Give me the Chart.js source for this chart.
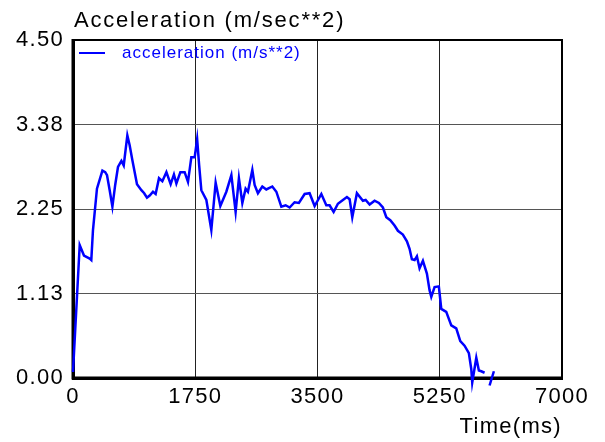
<!DOCTYPE html>
<html>
<head>
<meta charset="utf-8">
<script src="https://cdn.jsdelivr.net/npm/chart.js@4/dist/chart.umd.min.js"></script>
<style>
  html, body { margin: 0; padding: 0; background: #fff; }
  #wrap { width: 605px; height: 442px; position: relative; }
</style>
</head>
<body>
<div id="wrap"><canvas id="c" width="605" height="442"></canvas></div>
<script>
// ---- data ----
const chartTitle = 'Acceleration (m/sec**2)';
const seriesLabel = 'acceleration (m/s**2)';
const xAxisTitle = 'Time(ms)';

const timeMs = [
  0, 96, 157, 239, 262, 286, 343, 421, 461, 487, 525, 564, 604, 644, 693, 726, 778, 811, 850, 916,
  979, 1019, 1059, 1098, 1145, 1183, 1231, 1279, 1337, 1398, 1445, 1480, 1537, 1598, 1646, 1694, 1742, 1777, 1806, 1837,
  1909, 1980, 2042, 2109, 2195, 2267, 2328, 2375, 2424, 2471, 2504, 2567, 2600, 2647, 2710, 2767, 2853, 2911, 2982, 3044,
  3101, 3172, 3234, 3316, 3387, 3459, 3555, 3626, 3673, 3731, 3792, 3864, 3921, 3960, 3998, 4064, 4150, 4189, 4246, 4317,
  4379, 4436, 4485, 4542, 4603, 4651, 4722, 4780, 4818, 4851, 4890, 4923, 4961, 5009, 5066, 5104, 5129, 5176, 5237, 5272,
  5343, 5415, 5486, 5544, 5605, 5667, 5701, 5715, 5773, 5810, 5844, 5892, 5930, 5963, 6025
];
const accel = [
  0.08, 1.77, 1.63, 1.59, 1.57, 1.97, 2.52, 2.76, 2.74, 2.70, 2.50, 2.28, 2.57, 2.81, 2.89, 2.83, 3.23, 3.10, 2.90, 2.58,
  2.50, 2.46, 2.40, 2.43, 2.48, 2.45, 2.66, 2.62, 2.74, 2.58, 2.71, 2.59, 2.74, 2.74, 2.61, 2.94, 2.94, 3.18, 2.83, 2.50,
  2.37, 1.97, 2.60, 2.29, 2.48, 2.70, 2.21, 2.66, 2.33, 2.52, 2.48, 2.77, 2.57, 2.46, 2.55, 2.51, 2.55, 2.48, 2.28, 2.30,
  2.27, 2.34, 2.33, 2.45, 2.46, 2.29, 2.45, 2.30, 2.30, 2.21, 2.32, 2.37, 2.41, 2.38, 2.14, 2.46, 2.36, 2.37, 2.31, 2.36,
  2.33, 2.27, 2.14, 2.10, 2.03, 1.96, 1.91, 1.82, 1.72, 1.58, 1.57, 1.62, 1.46, 1.56, 1.39, 1.17, 1.08, 1.21, 1.22, 0.92,
  0.88, 0.70, 0.66, 0.49, 0.43, 0.33, 0.12, -0.06, 0.27, 0.10, 0.09, 0.07, null, -0.10, 0.09
];

const xTickValues = [0, 1750, 3500, 5250, 7000];
const xTickLabels = ['0', '1750', '3500', '5250', '7000'];
const yTickValues = [0, 1.125, 2.25, 3.375, 4.5];
const yTickLabels = ['0.00', '1.13', '2.25', '3.38', '4.50'];

// ---- styling ----
const FONT = 'Liberation Sans, Arial, sans-serif';
const LS = '1.3px';
const BLUE = '#0000ff';

const letterSpacingPlugin = {
  id: 'ls',
  beforeLayout(chart) { chart.ctx.letterSpacing = LS; },
  beforeDraw(chart) { chart.ctx.letterSpacing = LS; }
};

const framePlugin = {
  id: 'frame',
  beforeDatasetsDraw(chart) {
    const { ctx, chartArea: a } = chart;
    ctx.save();
    ctx.strokeStyle = '#000';
    ctx.lineWidth = 2;
    ctx.beginPath();
    ctx.moveTo(a.left, a.top);
    ctx.lineTo(a.right, a.top);
    ctx.lineTo(a.right, a.bottom);
    ctx.stroke();
    ctx.lineWidth = 3;
    ctx.beginPath();
    ctx.moveTo(a.left, a.top - 1);
    ctx.lineTo(a.left, a.bottom);
    ctx.lineTo(a.right + 1, a.bottom);
    ctx.stroke();
    ctx.restore();
  }
};

const textPlugin = {
  id: 'texts',
  afterDraw(chart) {
    const { ctx, chartArea: a } = chart;
    const ds = chart.data.datasets[0];
    ctx.save();
    // title
    ctx.letterSpacing = '1.8px';
    ctx.fillStyle = '#000';
    ctx.font = '22px ' + FONT;
    ctx.textAlign = 'left';
    ctx.textBaseline = 'middle';
    ctx.fillText(chartTitle, a.left + 1, 20.5);
    // legend
    const ly = a.top + 13;
    ctx.strokeStyle = ds.borderColor;
    ctx.lineWidth = 2;
    ctx.beginPath();
    ctx.moveTo(a.left + 6, ly);
    ctx.lineTo(a.left + 32, ly);
    ctx.stroke();
    ctx.fillStyle = ds.borderColor;
    ctx.letterSpacing = '1px';
    ctx.font = '17px ' + FONT;
    ctx.fillText(ds.label, a.left + 49, ly);
    ctx.restore();
  }
};

const points = timeMs.map((t, i) => ({ x: t, y: accel[i] }));

new Chart(document.getElementById('c'), {
  type: 'line',
  data: {
    datasets: [{
      label: seriesLabel,
      data: points,
      borderColor: BLUE,
      borderWidth: 2.5,
      pointRadius: 0,
      tension: 0,
      fill: false,
      spanGaps: false,
      clip: false
    }]
  },
  options: {
    responsive: false,
    animation: false,
    events: [],
    layout: { padding: { left: 0, top: 40, right: 43, bottom: 0 } },
    plugins: {
      legend: { display: false },
      title: { display: false },
      tooltip: { enabled: false }
    },
    scales: {
      x: {
        type: 'linear',
        min: 0,
        max: 7000,
        afterBuildTicks(scale) { scale.ticks = xTickValues.map(v => ({ value: v })); },
        afterFit(scale) { scale.height = 64; },
        ticks: {
          autoSkip: false,
          maxRotation: 0,
          padding: 6,
          color: '#000',
          font: { family: FONT, size: 22 },
          callback: (v, i) => xTickLabels[i]
        },
        grid: { color: '#222', lineWidth: 1, drawTicks: false },
        border: { display: true, color: '#000', width: 3 },
        title: {
          display: true,
          text: xAxisTitle,
          align: 'end',
          color: '#000',
          font: { family: FONT, size: 22 },
          padding: { top: 0, bottom: 2 }
        }
      },
      y: {
        type: 'linear',
        min: 0,
        max: 4.5,
        afterBuildTicks(scale) { scale.ticks = yTickValues.map(v => ({ value: v })); },
        afterFit(scale) { scale.width = 73; },
        ticks: {
          autoSkip: false,
          padding: 9,
          color: '#000',
          font: { family: FONT, size: 22 },
          callback: (v, i) => yTickLabels[i]
        },
        grid: { color: '#555', lineWidth: 1, drawTicks: false },
        border: { display: true, color: '#000', width: 3 }
      }
    }
  },
  plugins: [letterSpacingPlugin, framePlugin, textPlugin]
});
</script>
</body>
</html>
